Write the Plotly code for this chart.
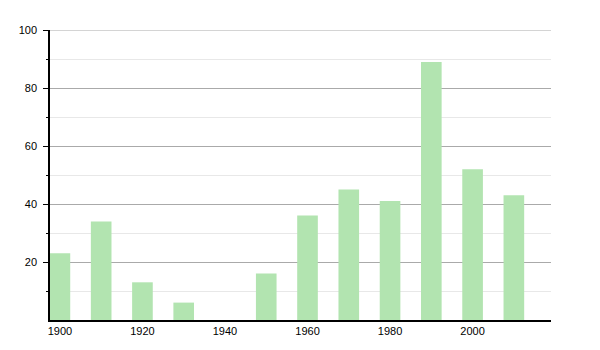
import plotly.graph_objects as go

years = [1900, 1910, 1920, 1930, 1940, 1950, 1960, 1970, 1980, 1990, 2000, 2010]
values = [23, 34, 13, 6, 0, 16, 36, 45, 41, 89, 52, 43]
y_ticks = [20, 40, 60, 80, 100]
x_ticks = [1900, 1920, 1940, 1960, 1980, 2000]

fig = go.Figure(go.Bar(
    x=years, y=values, width=5,
    marker=dict(color="rgb(178,228,176)", line=dict(width=0)),
))

fig.update_layout(
    width=600, height=350,
    margin=dict(l=50, r=49, t=30, b=30),
    paper_bgcolor="white", plot_bgcolor="white",
    showlegend=False,
    font=dict(family="Liberation Sans, Arial, sans-serif", size=11, color="#000000"),
)
fig.add_shape(type="line", xref="paper", yref="y", x0=0, x1=1,
              y0=max(y_ticks), y1=max(y_ticks),
              line=dict(color="#aaaaaa", width=1), layer="below")
fig.update_xaxes(
    range=[1897.6, 2019], tickmode="array", tickvals=x_ticks,
    tickfont=dict(color="#000000"),
    showline=True, linecolor="black", linewidth=1.5,
    showgrid=False, ticks="", zeroline=False,
)
fig.update_yaxes(
    range=[0, 100], tickmode="array", tickvals=y_ticks,
    tickfont=dict(color="#000000"),
    showline=True, linecolor="black", linewidth=1.5,
    showgrid=True, gridcolor="#aaaaaa", gridwidth=1,
    ticks="outside", ticklen=5, tickcolor="black", tickwidth=1,
    ticklabelstandoff=4, zeroline=False,
    minor=dict(tickvals=[10, 30, 50, 70, 90], showgrid=True, gridcolor="#e8e8e8",
               ticks="outside", ticklen=2, tickcolor="black"),
)

fig.write_html("out.html")
